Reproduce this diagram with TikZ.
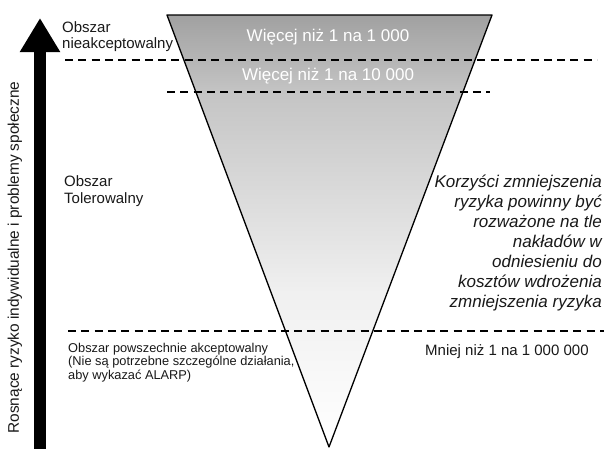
\documentclass[tikz,border=0pt]{standalone}
\usepackage{fontspec}
\setmainfont{Liberation Sans}
\usetikzlibrary{arrows.meta}
\definecolor{gA}{gray}{0.63}
\definecolor{gB}{gray}{0.77}
\definecolor{gC}{gray}{0.94}
\definecolor{txt}{gray}{0.1}
\pgfdeclareverticalshading{trishade}{100bp}{color(0bp)=(white); color(25bp)=(white); color(43bp)=(gC); color(66bp)=(gB); color(75bp)=(gA); color(100bp)=(gA)}
\tikzset{
  dashline/.style={line width=1.4pt, dash pattern=on 8pt off 5.3pt},
  lbl/.style={inner sep=0pt, text=txt, font=\fontsize{15}{16.5}\selectfont, align=left},
  band/.style={inner sep=0pt, text=white, font=\fontsize{17}{19}\selectfont},
}
\begin{document}
\begin{tikzpicture}[x=1pt,y=-1pt]
\useasboundingbox[fill=white] (0,0) rectangle (604,448);
% funnel
\coordinate (tl) at (167,15);
\coordinate (tr) at (492,15);
\coordinate (ap) at (329,447);
\shade[shading=trishade] (tl) -- (tr) -- (ap) -- cycle;
\draw[line width=1.3pt, line join=round] (tl) -- (tr) -- (ap) -- cycle;
% dashed limits
\coordinate (d1a) at (65,60);  \coordinate (d1b) at (597,60);
\coordinate (d2a) at (167,92); \coordinate (d2b) at (490,92);
\coordinate (d3a) at (68,331); \coordinate (d3b) at (604,331);
\draw[dashline] (d1a) -- (d1b);
\draw[dashline] (d2a) -- (d2b);
\draw[dashline] (d3a) -- (d3b);
% big arrow
\coordinate (ab) at (40,449);
\coordinate (at) at (40,18);
\draw[line width=12pt, -{Triangle[width=38pt,length=34pt]}] (ab) -- (at);
% texts
\node[lbl, rotate=90, font=\fontsize{15.4}{17}\selectfont] (axis) at (15,257.5) {Rosnące ryzyko indywidualne i problemy społeczne};
\node[lbl, anchor=west, font=\fontsize{15}{16}\selectfont] (unacc) at (62,37) {Obszar\\nieakceptowalny};
\node[band] (b1) at (328,37) {Więcej niż 1 na 1 000};
\node[band] (b2) at (328,76) {Więcej niż 1 na 10 000};
\node[lbl, anchor=west, font=\fontsize{15}{17}\selectfont] (tol) at (64,191.5) {Obszar\\Tolerowalny};
\node[lbl, anchor=east, align=right, font=\fontsize{17}{20}\selectfont\itshape] (benefit) at (602,243)
  {Korzyści zmniejszenia\\ryzyka powinny być\\rozważone na tle\\nakładów w\\odniesieniu do\\kosztów wdrożenia\\zmniejszenia ryzyka};
\node[lbl, anchor=west, font=\fontsize{12.8}{13.5}\selectfont] (broad) at (68,362.5)
  {Obszar powszechnie akceptowalny\\(Nie są potrzebne szczególne działania,\\aby wykazać ALARP)};
\node[lbl, anchor=west] (low) at (425,352) {Mniej niż 1 na 1 000 000};
\end{tikzpicture}
\end{document}
